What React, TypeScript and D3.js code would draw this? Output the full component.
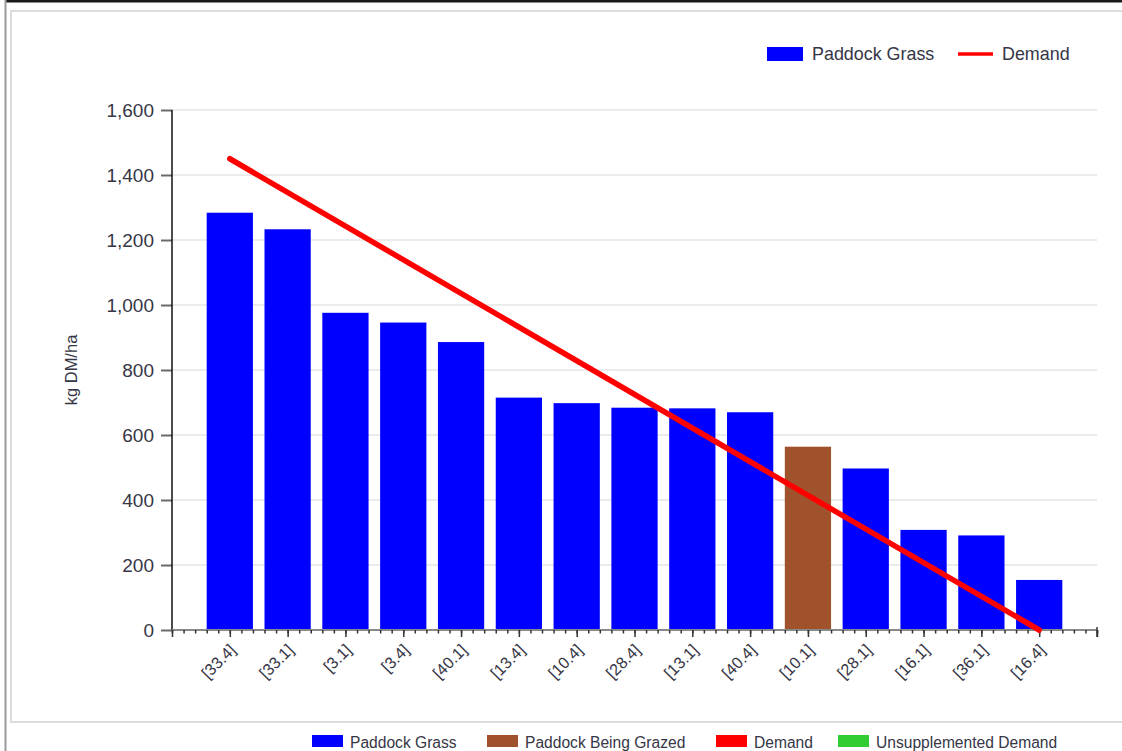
import { useRef, useEffect } from "react";
import * as d3 from "d3";

const paddocks = ["[33.4]", "[33.1]", "[3.1]", "[3.4]", "[40.1]", "[13.4]", "[10.4]", "[28.4]", "[13.1]", "[40.4]", "[10.1]", "[28.1]", "[16.1]", "[36.1]", "[16.4]"];
const grass = [1284, 1233, 976, 946, 886, 715, 698, 684, 682, 670, 564, 497, 308, 291, 154];
const grazed = ["[10.1]"];
// demand is drawn as a straight line between the first and last paddock
const demandPoints = [
  { paddock: "[33.4]", value: 1450 },
  { paddock: "[16.4]", value: 0 },
];
const yTicks = [0, 200, 400, 600, 800, 1000, 1200, 1400, 1600];
const bottomLegend = [
  { name: "Paddock Grass", color: "#0000ff" },
  { name: "Paddock Being Grazed", color: "#a0522d" },
  { name: "Demand", color: "#ff0000" },
  { name: "Unsupplemented Demand", color: "#33cc33" },
];

const W = 1122, H = 751;
const FONT = "'Liberation Sans', Arial, sans-serif";
const TXT = "#363646";

export default function App() {
  const ref = useRef<SVGSVGElement>(null);
  useEffect(() => {
    if (!ref.current) return;
    const svg = d3.select(ref.current);
    svg.selectAll("*").remove();
    svg.attr("width", W).attr("height", H).attr("font-family", FONT);

    // frame
    svg.append("rect").attr("width", W).attr("height", H).attr("fill", "#fff");
    svg.append("line").attr("x1", 5).attr("x2", W).attr("y1", 1.2).attr("y2", 1.2).attr("stroke", "#1a1a1a").attr("stroke-width", 2.5);
    svg.append("line").attr("x1", 5.5).attr("x2", 5.5).attr("y1", 0).attr("y2", H).attr("stroke", "#9a9a9a").attr("stroke-width", 2);
    svg.append("rect").attr("x", 11).attr("y", 11).attr("width", W + 20).attr("height", 711)
      .attr("fill", "none").attr("stroke", "#dcdcdc").attr("stroke-width", 2);

    const x = d3.scaleLinear().domain([0, 16]).range([172, 1097]);
    const y = d3.scaleLinear().domain([0, 1600]).range([630, 110]);
    const idx = (p: string) => paddocks.indexOf(p) + 1;

    // gridlines
    svg.append("g").selectAll("line").data(yTicks.filter(t => t > 0)).join("line")
      .attr("x1", x(0)).attr("x2", x(16)).attr("y1", d => y(d)).attr("y2", d => y(d))
      .attr("stroke", "#e4e4e4").attr("stroke-width", 1.5);

    // bars
    const bw = x(0.8) - x(0);
    svg.append("g").selectAll("rect").data(paddocks).join("rect")
      .attr("x", (d, i) => x(i + 1) - bw / 2).attr("width", bw)
      .attr("y", (d, i) => y(grass[i])).attr("height", (d, i) => y(0) - y(grass[i]))
      .attr("fill", d => (grazed.includes(d) ? "#a0522d" : "#0000ff"));

    // y axis
    const yAxis = svg.append("g").attr("transform", `translate(${x(0)},0)`)
      .call(d3.axisLeft(y).tickValues(yTicks).tickSize(11).tickPadding(7).tickFormat(d3.format(",")));
    yAxis.select(".domain").remove();
    yAxis.selectAll(".tick line").attr("stroke", "#6a6a6a").attr("stroke-width", 2);
    yAxis.selectAll("text").attr("fill", TXT).attr("font-size", "19px").attr("font-family", FONT);
    svg.append("line").attr("x1", x(0)).attr("x2", x(0)).attr("y1", y(1600)).attr("y2", y(0))
      .attr("stroke", "#111").attr("stroke-width", 1.5);

    // x axis: minor and major ticks
    svg.append("line").attr("x1", x(0)).attr("x2", x(16)).attr("y1", y(0)).attr("y2", y(0))
      .attr("stroke", "#8a8a8a").attr("stroke-width", 2);
    const minor = svg.append("g").attr("transform", `translate(0,${y(0)})`)
      .call(d3.axisBottom(x).tickValues(d3.range(0, 81).map(k => k / 5)).tickSize(3.5).tickFormat(() => ""));
    minor.select(".domain").remove();
    minor.selectAll(".tick line").attr("stroke", "#333").attr("stroke-width", 1.5);
    const major = svg.append("g").attr("transform", `translate(0,${y(0)})`)
      .call(d3.axisBottom(x).tickValues(d3.range(0, 17)).tickSize(7).tickFormat(() => ""));
    major.select(".domain").remove();
    major.selectAll(".tick line").attr("stroke", "#333").attr("stroke-width", 1.5);
    svg.append("line").attr("x1", x(16)).attr("x2", x(16)).attr("y1", y(0) - 3).attr("y2", y(0) + 7)
      .attr("stroke", "#333").attr("stroke-width", 1.5);

    // x labels
    svg.append("g").selectAll("text").data(paddocks).join("text")
      .attr("transform", (d, i) => `translate(${x(i + 1) + 7},${y(0) + 21}) rotate(-45)`)
      .attr("text-anchor", "end").attr("fill", TXT).attr("font-size", "16.2px").text(d => d);

    // demand line
    const line = d3.line<{ paddock: string; value: number }>().x(d => x(idx(d.paddock))).y(d => y(d.value));
    svg.append("path").datum(demandPoints).attr("d", line).attr("fill", "none")
      .attr("stroke", "#ff0000").attr("stroke-width", 5.5).attr("stroke-linecap", "round");

    // y label
    svg.append("text").attr("transform", "translate(77,370) rotate(-90)").attr("text-anchor", "middle")
      .attr("fill", TXT).attr("font-size", "16.5px").text("kg DM/ha");

    // top legend
    const tl = svg.append("g");
    tl.append("rect").attr("x", 767).attr("y", 47).attr("width", 36).attr("height", 14).attr("fill", "#0000ff");
    tl.append("text").attr("x", 812).attr("y", 60).attr("fill", TXT).attr("font-size", "17.9px").text("Paddock Grass");
    tl.append("line").attr("x1", 958).attr("x2", 993).attr("y1", 54).attr("y2", 54).attr("stroke", "#ff0000").attr("stroke-width", 3.5);
    tl.append("text").attr("x", 1002).attr("y", 60).attr("fill", TXT).attr("font-size", "17.9px").text("Demand");

    // bottom legend
    const legX = [312, 487, 716, 838];
    const bl = svg.append("g").selectAll("g").data(bottomLegend).join("g")
      .attr("transform", (d, i) => `translate(${legX[i]},735)`);
    bl.append("rect").attr("width", 31).attr("height", 12).attr("fill", d => d.color);
    bl.append("text").attr("x", 38).attr("y", 12.5).attr("fill", TXT).attr("font-size", "15.6px").text(d => d.name);
  }, []);

  return (
    <div style={{ position: "absolute", left: 0, top: 0 }}>
      <svg ref={ref} style={{ display: "block" }} />
    </div>
  );
}
